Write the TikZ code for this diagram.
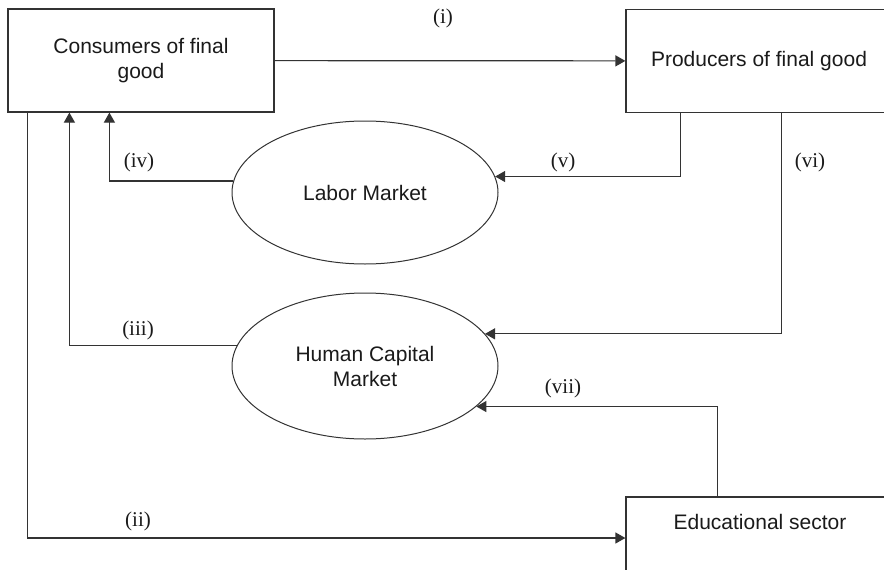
\documentclass[tikz,border=0pt]{standalone}
\usepackage{fontspec}
\setmainfont{Liberation Sans}
\newfontfamily\labfont{Liberation Serif}
\usetikzlibrary{arrows.meta,shapes.geometric}
\definecolor{linecol}{HTML}{333333}
\definecolor{txtcol}{HTML}{1A1A1A}
\begin{document}
\begin{tikzpicture}[x=1pt,y=-1pt,
  box/.style={draw=linecol, line width=1.2pt, minimum width=266pt, minimum height=103pt, inner sep=0pt, font=\fontsize{21}{25}\selectfont, text=txtcol, align=center},
  mkt/.style={ellipse, draw=linecol, line width=1pt, minimum width=266pt, inner sep=0pt, font=\fontsize{21}{25}\selectfont, text=txtcol, align=center},
  txt/.style={font=\fontsize{21}{25}\selectfont, text=txtcol, inner sep=0pt},
  arr/.style={draw=linecol, line width=1.2pt, -{Triangle[length=10pt,width=11pt]}},
  lab/.style={font=\labfont\fontsize{21}{25}\selectfont, text=txtcol, inner sep=0pt}]
\useasboundingbox (0,0) rectangle (884,570);
\clip (0,0) rectangle (884,570);
% boxes
\node[box] (cons) at (141,60.5) {Consumers of final\\good};
\node[box] (prod) at (759,61) {Producers of final good};
\node[box, minimum height=82pt] (edu) at (759,538) {};
\node[txt] (edutext) at (760,522) {Educational sector};
% markets
\node[mkt, minimum height=143pt] (lab) at (365,192.5) {Labor Market};
\node[mkt, minimum height=146pt] (hc) at (365,366) {Human Capital\\Market};
% connectors
\draw[arr] (cons) -- (prod);
\draw[arr] ([xshift=20pt]cons.south west) |- (edu.west);
\draw[arr] (hc.171) -| ([xshift=62pt]cons.south west);
\draw[arr] (lab.175.4) -| ([xshift=102pt]cons.south west);
\draw[arr] ([xshift=55pt]prod.south west) |- (lab.7.7);
\draw[arr] ([xshift=156pt]prod.south west) |- (hc.15);
\draw[arr] ([xshift=92pt]edu.north west) |- (hc.340.2);
% labels
\node[lab] (li) at (443,18) {(i)};
\node[lab] (lii) at (138,521) {(ii)};
\node[lab] (liii) at (138,330) {(iii)};
\node[lab] (liv) at (139,162) {(iv)};
\node[lab] (lv) at (563,162) {(v)};
\node[lab] (lvi) at (810,162) {(vi)};
\node[lab] (lvii) at (563,388) {(vii)};
\end{tikzpicture}
\end{document}
